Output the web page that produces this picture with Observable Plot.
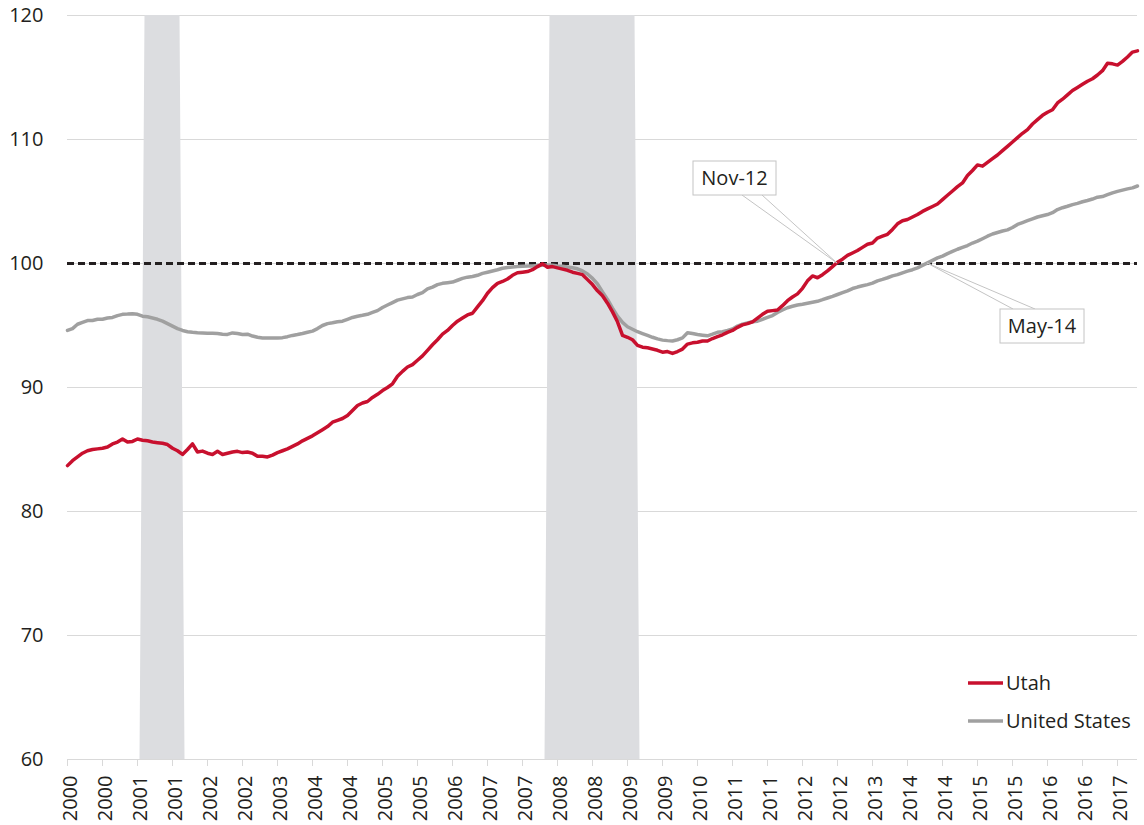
<!DOCTYPE html>
<html>
<head>
<meta charset="utf-8">
<script src="https://cdn.jsdelivr.net/npm/d3@7"></script>
<script src="https://cdn.jsdelivr.net/npm/@observablehq/plot@0.6"></script>
<style>
  body { margin: 0; background: #fff; }
  #chart svg { display: block; }
</style>
</head>
<body>
<div id="chart"></div>
<script>
// Monthly index values, January 2000 onward
const startYear = 2000;
const seriesNames = ["Utah", "United States"];
const seriesColors = ["#c8102e", "#a0a0a0"];

const utah = [
  83.7, 84.1, 84.4, 84.7, 84.9, 85.0, 85.05, 85.1, 85.2, 85.45, 85.6, 85.85,
  85.6, 85.65, 85.85, 85.75, 85.7, 85.6, 85.55, 85.5, 85.4, 85.1, 84.9, 84.6,
  85.0, 85.45, 84.8, 84.87, 84.7, 84.6, 84.85, 84.6, 84.7, 84.8, 84.85, 84.75,
  84.8, 84.7, 84.45, 84.45, 84.4, 84.55, 84.75, 84.9, 85.05, 85.25, 85.45, 85.7,
  85.9, 86.1, 86.35, 86.6, 86.85, 87.2, 87.35, 87.5, 87.75, 88.15, 88.55, 88.75,
  88.87, 89.2, 89.45, 89.75, 90.0, 90.3, 90.9, 91.3, 91.65, 91.85, 92.2, 92.55,
  93.0, 93.45, 93.85, 94.3, 94.6, 95.0, 95.35, 95.6, 95.85, 95.99, 96.5, 97.0,
  97.6, 98.05, 98.4, 98.55, 98.75, 99.05, 99.25, 99.3, 99.35, 99.5, 99.75, 99.97,
  99.7, 99.75, 99.65, 99.55, 99.45, 99.3, 99.2, 99.1, 98.7, 98.3, 97.8, 97.4,
  96.8, 96.1, 95.3, 94.2, 94.05, 93.85, 93.4, 93.25, 93.2, 93.1, 93.0, 92.85,
  92.9, 92.75, 92.9, 93.1, 93.5, 93.6, 93.65, 93.75, 93.75, 93.95, 94.1, 94.25,
  94.45, 94.6, 94.85, 95.05, 95.15, 95.3, 95.6, 95.9, 96.15, 96.2, 96.25, 96.6,
  97.0, 97.3, 97.55, 98.0, 98.6, 99.0, 98.85, 99.1, 99.4, 99.75, 100.1, 100.35,
  100.65, 100.85, 101.05, 101.3, 101.55, 101.65, 102.05, 102.2, 102.35, 102.75, 103.2, 103.45,
  103.55, 103.75, 103.95, 104.2, 104.4, 104.6, 104.8, 105.15, 105.5, 105.85, 106.2, 106.5,
  107.1, 107.5, 107.95, 107.85, 108.15, 108.45, 108.75, 109.1, 109.45, 109.8, 110.15, 110.5,
  110.8, 111.25, 111.6, 111.95, 112.2, 112.4, 112.95, 113.25, 113.6, 113.95, 114.2, 114.45,
  114.7, 114.9, 115.2, 115.55, 116.15, 116.1, 116.0, 116.3, 116.65, 117.05, 117.15
];

const unitedStates = [
  94.6, 94.75, 95.1, 95.25, 95.4, 95.4, 95.5, 95.5, 95.6, 95.65, 95.8, 95.9,
  95.92, 95.95, 95.9, 95.75, 95.7, 95.6, 95.5, 95.35, 95.15, 94.95, 94.75, 94.6,
  94.5, 94.45, 94.42, 94.4, 94.38, 94.38, 94.35, 94.3, 94.28, 94.4, 94.35, 94.27,
  94.3, 94.15, 94.05, 94.0, 94.0, 94.0, 94.0, 94.02, 94.1, 94.2, 94.27, 94.35,
  94.45, 94.55, 94.75, 95.0, 95.15, 95.22, 95.3, 95.35, 95.5, 95.65, 95.75, 95.82,
  95.9, 96.05, 96.2, 96.45, 96.65, 96.85, 97.05, 97.15, 97.25, 97.3, 97.5, 97.65,
  97.95, 98.1, 98.3, 98.4, 98.45, 98.5, 98.65, 98.8, 98.9, 98.95, 99.05, 99.2,
  99.3, 99.4, 99.5, 99.62, 99.68, 99.72, 99.76, 99.78, 99.8, 99.8, 99.83, 99.86,
  99.88, 99.85, 99.8, 99.78, 99.72, 99.65, 99.57, 99.4, 99.15, 98.8, 98.35, 97.7,
  97.1, 96.4, 95.75, 95.25, 94.9, 94.7, 94.5, 94.35, 94.2, 94.05, 93.92, 93.82,
  93.78, 93.75, 93.85, 94.0, 94.42, 94.35, 94.27, 94.22, 94.17, 94.3, 94.45, 94.5,
  94.6, 94.72, 94.95, 95.1, 95.2, 95.3, 95.35, 95.5, 95.65, 95.8, 96.05, 96.25,
  96.43, 96.55, 96.65, 96.72, 96.8, 96.88, 96.95, 97.08, 97.22, 97.35, 97.5, 97.65,
  97.8, 97.98, 98.1, 98.2, 98.3, 98.42, 98.6, 98.72, 98.85, 99.0, 99.1, 99.25,
  99.38, 99.5, 99.65, 99.85, 100.05, 100.25, 100.45, 100.6, 100.8, 100.97, 101.15, 101.3,
  101.45, 101.65, 101.8, 102.0, 102.2, 102.38, 102.5, 102.62, 102.71, 102.9, 103.15, 103.3,
  103.45, 103.6, 103.75, 103.85, 103.95, 104.1, 104.35, 104.5, 104.62, 104.75, 104.85, 104.98,
  105.08, 105.2, 105.35, 105.4, 105.55, 105.7, 105.82, 105.92, 106.02, 106.1, 106.25
];

// Category-axis labels, one every 7 months
const tickEvery = 7;
const tickLabels = [
  "2000", "2000", "2001", "2001", "2002", "2002", "2003", "2004", "2004", "2005",
  "2005", "2006", "2007", "2007", "2008", "2008", "2009", "2009", "2010", "2011",
  "2011", "2012", "2012", "2013", "2014", "2014", "2015", "2015", "2016", "2016", "2017"
];

// Recession months (first and last shaded month)
const recessions = [["2001-04", "2001-11"], ["2008-01", "2009-06"]];

// Crossing annotations
const annotations = [
  { label: "Nov-12", month: "2012-11", value: 100 },
  { label: "May-14", month: "2014-05", value: 100 }
];

const yTicks = [60, 70, 80, 90, 100, 110, 120];
const reference = 100;

// ---- build tables ----
const monthIndex = s => { const [y, m] = s.split("-").map(Number); return (y - startYear) * 12 + (m - 1); };
const N = utah.length;
const utahRows = utah.map((v, i) => ({ i, v }));
const usRows = unitedStates.map((v, i) => ({ i, v }));
const recRows = d3.range(N).map(i => ({
  x: i + 0.5,
  top: recessions.some(([a, b]) => i >= monthIndex(a) && i <= monthIndex(b)) ? yTicks[yTicks.length - 1] : yTicks[0]
}));
const tickPos = tickLabels.map((_, k) => k * tickEvery);

const font = "'Open Sans', 'Noto Sans', sans-serif";
const textColor = "#231f20";
const W = 1144, H = 825, mL = 67, mR = 7, mT = 15, mB = 66;

const chart = Plot.plot({
  width: W, height: H,
  marginLeft: mL, marginRight: mR, marginTop: mT, marginBottom: mB,
  style: { fontFamily: font, fontSize: "20px", color: textColor, background: "#fff" },
  x: { type: "linear", domain: [0, N - 1] },
  y: { domain: [yTicks[0], yTicks[yTicks.length - 1]] },
  marks: [
    Plot.ruleY(yTicks, { stroke: "#d9d9d9", strokeWidth: 1 }),
    Plot.areaY(recRows, { x: "x", y1: yTicks[0], y2: "top", fill: "#dcdde0", curve: "linear" }),
    Plot.ruleY([reference], { stroke: textColor, strokeWidth: 3, strokeDasharray: "7,4" }),
    Plot.line(usRows, { x: "i", y: "v", stroke: seriesColors[1], strokeWidth: 3.5, strokeLinejoin: "round" }),
    Plot.line(utahRows, { x: "i", y: "v", stroke: seriesColors[0], strokeWidth: 3.5, strokeLinejoin: "round" }),
    Plot.axisY(yTicks, { tickSize: 0, tickPadding: 24, fontSize: 20 }),
    Plot.axisX(tickPos, { tickSize: 7, stroke: "#d9d9d9", tickFormat: () => "" }),
    Plot.axisX(tickPos, { tickSize: 0, tickPadding: 16, tickRotate: -90, fontSize: 20, dx: 3,
      tickFormat: d => tickLabels[Math.round(d / tickEvery)] })
  ]
});
document.getElementById("chart").appendChild(chart);

// ---- annotations and legend drawn with the plot's own scales ----
const sx = chart.scale("x"), sy = chart.scale("y");
const fx = sx.apply ? v => sx.apply(v) : d3.scaleLinear(sx.domain, sx.range);
const fy = sy.apply ? v => sy.apply(v) : d3.scaleLinear(sy.domain, sy.range);
const svg = d3.select(chart);

const annotLayout = [
  { box: [-144, -102, 83, 34], leaders: [[49, 34], [69, 34]] },
  { box: [73, 46, 84, 34], leaders: [[13, 0], [35, 0]] }
];
annotations.forEach((a, k) => {
  const ax = fx(monthIndex(a.month)), ay = fy(a.value);
  const L = annotLayout[k];
  const bx = ax + L.box[0], by = ay + L.box[1];
  const g = svg.append("g");
  L.leaders.forEach(([lx, ly]) => {
    g.append("line").attr("x1", bx + lx).attr("y1", by + ly).attr("x2", ax).attr("y2", ay)
      .attr("stroke", "#c4c4c4").attr("stroke-width", 1);
  });
  g.append("rect").attr("x", bx).attr("y", by).attr("width", L.box[2]).attr("height", L.box[3])
    .attr("fill", "#fff").attr("stroke", "#c4c4c4").attr("stroke-width", 1);
  g.append("text").attr("x", bx + L.box[2] / 2).attr("y", by + L.box[3] / 2).attr("dy", "0.35em")
    .attr("text-anchor", "middle").attr("fill", textColor)
    .style("font-family", font).style("font-size", "20px").text(a.label);
});

const frameRight = W - mR, frameBottom = H - mB;
seriesNames.forEach((name, k) => {
  const y = frameBottom - 76 + k * 38;
  svg.append("line").attr("x1", frameRight - 169).attr("x2", frameRight - 134)
    .attr("y1", y).attr("y2", y).attr("stroke", seriesColors[k]).attr("stroke-width", 3.5);
  svg.append("text").attr("x", frameRight - 131).attr("y", y).attr("dy", "0.35em")
    .attr("text-anchor", "start")
    .attr("fill", textColor).style("font-family", font).style("font-size", "20px").text(name);
});
</script>
</body>
</html>
